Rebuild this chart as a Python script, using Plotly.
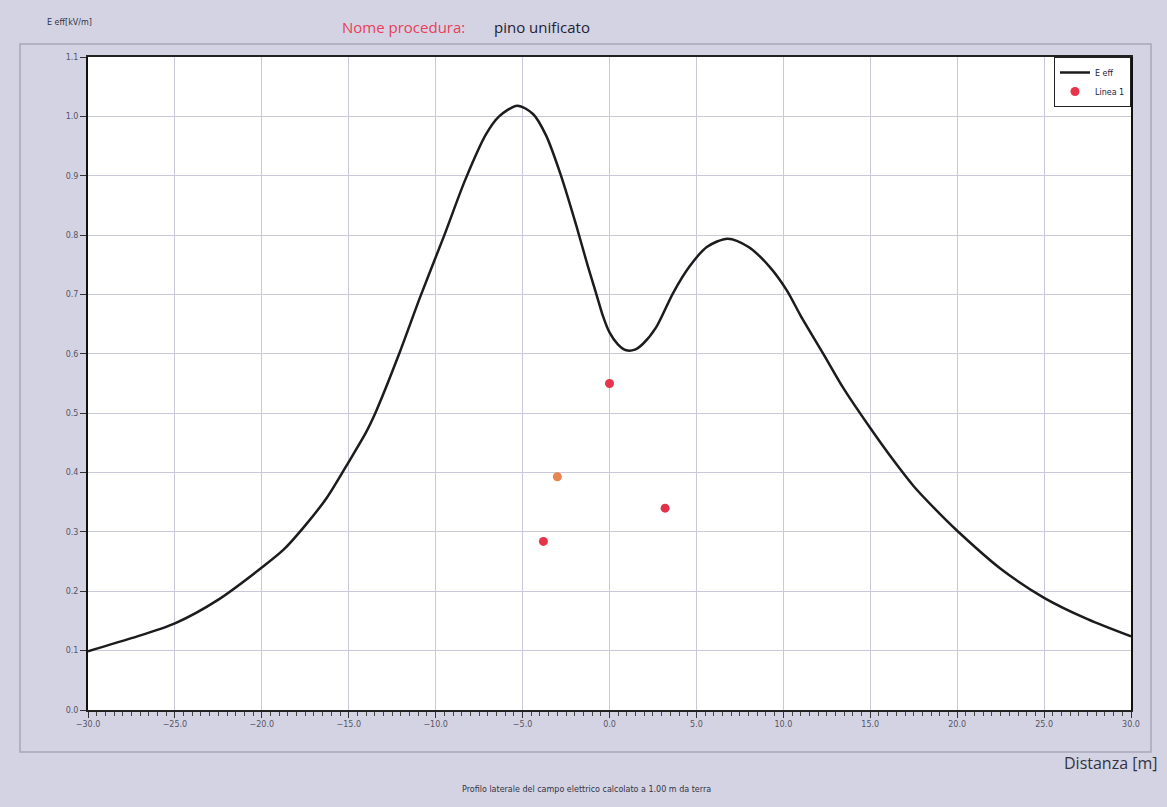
import plotly.graph_objects as go

# Curve "E eff" (distance in m, field in kV/m)
dist = [-30, -27.5, -25, -22.5, -20, -18.75, -17.5, -16.25, -15, -14.0, -13.4, -12.1, -10.9, -9.5,
        -8.3, -7.1, -6.35, -5.3, -4.4, -3.65, -2.8, -1.9, -1.25, -0.77, -0.38, 0.0, 0.48, 0.96,
        1.46, 1.93, 2.69, 3.65, 4.6, 5.6, 6.8, 8.0, 9.2, 10.2, 11.0, 12.3, 13.5, 15.0, 16.25,
        17.5, 18.75, 20, 22.5, 25, 27.5, 30]
e_eff = [0.099, 0.121, 0.146, 0.186, 0.240, 0.270, 0.311, 0.358, 0.418, 0.468, 0.505, 0.600, 0.695, 0.800,
         0.893, 0.970, 1.000, 1.018, 1.004, 0.968, 0.901, 0.815, 0.748, 0.702, 0.664, 0.636, 0.616, 0.606,
         0.607, 0.617, 0.645, 0.702, 0.747, 0.780, 0.794, 0.780, 0.747, 0.707, 0.664, 0.600, 0.540, 0.475, 0.424,
         0.377, 0.338, 0.302, 0.238, 0.189, 0.153, 0.124]

# Points "Linea 1"
pt_x = [-3.8, -3.0, 0.0, 3.2]
pt_y = [0.284, 0.393, 0.550, 0.340]
pt_colors = ["#e8344a", "#e8844e", "#e8344a", "#e0304a"]

x_ticks = [-30, -25, -20, -15, -10, -5, 0, 5, 10, 15, 20, 25, 30]
y_ticks = [0.0, 0.1, 0.2, 0.3, 0.4, 0.5, 0.6, 0.7, 0.8, 0.9, 1.0, 1.1]

fig = go.Figure()
fig.add_trace(go.Scatter(x=dist, y=e_eff, mode="lines", name="E eff",
                         line=dict(color="#1c1c1c", width=2.5, shape="spline", smoothing=0.8)))
fig.add_trace(go.Scatter(x=pt_x, y=pt_y, mode="markers", name="Linea 1",
                         marker=dict(color=pt_colors, size=9)))

tickfont = dict(family="DejaVu Sans", size=8, color="#555566")
fig.update_layout(
    width=1167, height=807,
    margin=dict(l=88, r=36, t=57, b=97),
    paper_bgcolor="#d4d3e3", plot_bgcolor="white",
    showlegend=True,
    legend=dict(x=1, y=1, xanchor="right", yanchor="top", bgcolor="white",
                bordercolor="#222222", borderwidth=1,
                font=dict(family="DejaVu Sans", size=8, color="#222244"),
                itemwidth=30, tracegroupgap=2),
    xaxis=dict(range=[-30, 30], tickvals=x_ticks, tickformat=".1f", showgrid=True,
               gridcolor="#c9c9da", gridwidth=1, zeroline=False,
               showline=True, linecolor="#222222", linewidth=1.5, mirror=True,
               ticks="outside", ticklen=6, tickcolor="#333333", tickfont=tickfont,
               minor=dict(dtick=0.5, ticks="outside", ticklen=4, tickcolor="#444444", showgrid=False)),
    yaxis=dict(range=[0, 1.1], tickvals=y_ticks, tickformat=".1f", showgrid=True,
               gridcolor="#c9c9da", gridwidth=1, zeroline=False,
               showline=True, linecolor="#111111", linewidth=2, mirror=True,
               ticks="outside", ticklen=6, tickcolor="#333333", tickfont=tickfont),
)

# Inner panel frame
fig.add_shape(type="rect", xref="paper", yref="paper",
              x0=-68/1043, x1=(1151-88)/1043, y0=-(752-710)/653, y1=(710-44)/653,
              line=dict(color="#a8a8bc", width=1.5), fillcolor="rgba(0,0,0,0)", layer="below")

fig.add_annotation(text="E eff[kV/m]", xref="paper", yref="paper", x=(45-88)/1043, y=(710-22)/653,
                   xanchor="left", yanchor="middle", showarrow=False,
                   font=dict(family="DejaVu Sans", size=8, color="#333344"))
fig.add_annotation(text="Nome procedura:", xref="paper", yref="paper", x=(340-88)/1043, y=(710-27)/653,
                   xanchor="left", yanchor="middle", showarrow=False,
                   font=dict(family="Open Sans", size=15, color="#e8405a"))
fig.add_annotation(text="pino unificato", xref="paper", yref="paper", x=(492-88)/1043, y=(710-27)/653,
                   xanchor="left", yanchor="middle", showarrow=False,
                   font=dict(family="Open Sans", size=15, color="#222233"))
fig.add_annotation(text="Distanza [m]", xref="paper", yref="paper", x=(1160-88)/1043, y=-(763-710)/653,
                   xanchor="right", yanchor="middle", showarrow=False,
                   font=dict(family="Open Sans", size=16, color="#333344"))
fig.add_annotation(text="Profilo laterale del campo elettrico calcolato a 1.00 m da terra",
                   xref="paper", yref="paper", x=(586-88)/1043, y=-(789-710)/653,
                   xanchor="center", yanchor="middle", showarrow=False,
                   font=dict(family="DejaVu Sans", size=8, color="#333344"))

fig.write_html("out.html")
